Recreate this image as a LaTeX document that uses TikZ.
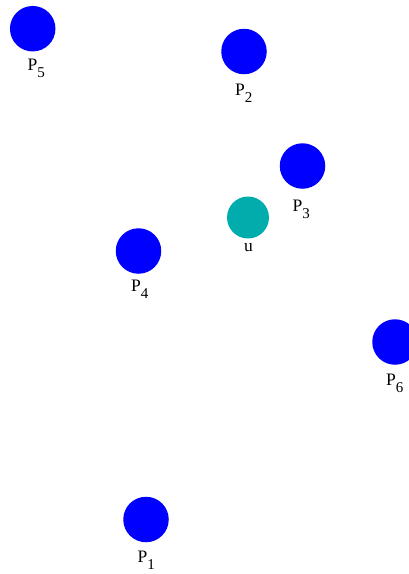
\documentclass[tikz,border=0pt]{standalone}
\usepackage{fontspec}
\setmainfont{Liberation Serif}
\newcommand{\plab}[1]{P\raisebox{-7pt}{\fontsize{15}{15}\selectfont #1}}
\begin{document}
\begin{tikzpicture}[x=1pt,y=-1pt,
  pt/.style={circle,fill={rgb,255:red,0;green,0;blue,255},draw=none,minimum size=45.5pt,inner sep=0pt},
  upt/.style={circle,fill={rgb,255:red,0;green,172;blue,172},draw=none,minimum size=42pt,inner sep=0pt},
  lab/.style={anchor=base west,inner sep=0pt,font=\fontsize{17.5}{17.5}\selectfont}]
\useasboundingbox (0,0) rectangle (409,574);
\clip (0,0) rectangle (409,574);
\node[pt] (p5) at (32.7,28.7) {};
\node[pt] (p2) at (244,51.5) {};
\node[pt] (p3) at (302.5,166) {};
\node[upt] (u) at (248,217.5) {};
\node[pt] (p4) at (138.5,251) {};
\node[pt] (p6) at (395,342) {};
\node[pt] (p1) at (146,519.5) {};
\node[lab] (l5) at (27.5,70) {\plab{5}};
\node[lab] (l2) at (235,95.5) {\plab{2}};
\node[lab] (l3) at (292.5,211) {\plab{3}};
\node[lab,anchor=base] (lu) at (248.5,251) {u};
\node[lab] (l4) at (131,291.5) {\plab{4}};
\node[lab] (l6) at (386,385.5) {\plab{6}};
\node[lab] (l1) at (137.5,562.5) {\plab{1}};
\end{tikzpicture}
\end{document}
